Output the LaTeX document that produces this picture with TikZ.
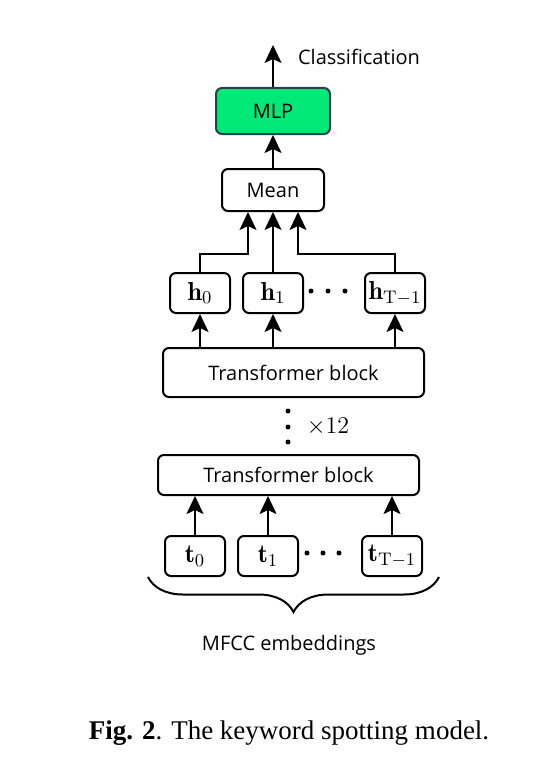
\documentclass[tikz,border=0pt]{standalone}
\usepackage{amsmath}
\usepackage{fontspec}
\usetikzlibrary{positioning}
\usetikzlibrary{calc}
\usetikzlibrary{arrows.meta}
\usetikzlibrary{decorations.pathreplacing}
\newfontfamily\labelfont{Open Sans}
\newfontfamily\captionfont{Liberation Serif}
\definecolor{mlpgreen}{RGB}{0,232,118}
\definecolor{mlpedge}{RGB}{45,62,80}

\begin{document}
\begin{tikzpicture}[x=0.5pt, y=-0.5pt,
    blk/.style={draw, rounded corners=3pt, line width=1pt, inner sep=0pt, font=\labelfont},
    tok/.style={draw, rounded corners=3pt, line width=1pt, minimum width=30pt, minimum height=20pt, inner sep=1.5pt, font=\fontsize{13}{15}\selectfont},
    arr/.style={-{Stealth[length=9pt, width=8.5pt, inset=2pt]}, line width=1pt}]
            \useasboundingbox (0,0) rectangle (550,765);

            \node[blk, fill=mlpgreen, draw=mlpedge, minimum width=57pt, minimum height=23pt] (mlp) at (273,111) {MLP};
            \node[blk, minimum width=51pt, minimum height=21pt] (mean) at (273,190) {Mean};
            \coordinate (out) at (273,45);
            \node[font=\labelfont, anchor=west] (cls) at (291,57) {Classification};

            \node[tok] (h1) at (273,293) {$\mathbf{h}_1$};
            \node[tok, left = 5.5pt of h1] (h0) {$\mathbf{h}_0$};
            \node[tok, right = 30pt of h1] (hT) {$\mathbf{h}_{\mathrm{T}-1}$};

            \node[blk, minimum width=130.5pt, minimum height=24.5pt] (tf2) at (293.5,372.5) {Transformer block};
            \node[font=\fontsize{12}{14}\selectfont] (rep) at (328,427) {$\times 12$};
            \node[blk, minimum width=130.5pt, minimum height=20pt] (tf1) at (288.5,475) {Transformer block};

            \node[tok] (t1) at (268,556) {$\mathbf{t}_1$};
            \node[tok, left = 5.5pt of t1] (t0) {$\mathbf{t}_0$};
            \node[tok, right = 31pt of t1] (tT) {$\mathbf{t}_{\mathrm{T}-1}$};

            \node[font=\labelfont] (mfcc) at (289,645) {MFCC embeddings};
            \node[font=\captionfont\fontsize{13.5}{16}\selectfont] (cap) at (289,733) {\textbf{Fig. 2}. The keyword spotting model.};

            % dots
            \foreach \x in {311,328,345} \fill (\x,291) circle (2.5);
            \foreach \x in {307,323,339} \fill (\x,553) circle (2.5);
            \foreach \y in {411,427,442} \fill (288,\y) circle (2.5);

            \draw[arr] (mlp.north) -- (out);
            \draw[arr] (mean.north) -- (mlp.south);
            \draw[arr] (h1.north) -- (mean.south);
            \draw[arr] (h0.north) -- ++(0,-18) -| ([xshift=-12.5pt]mean.south);
            \draw[arr] (hT.north) -- ++(0,-18) -| ([xshift=12.5pt]mean.south);

            \draw[arr] (h0 |- tf2.north) -- (h0.south);
            \draw[arr] (h1 |- tf2.north) -- (h1.south);
            \draw[arr] (hT |- tf2.north) -- (hT.south);

            \draw[arr] (t0.north) -- (t0 |- tf1.south);
            \draw[arr] (t1.north) -- (t1 |- tf1.south);
            \draw[arr] (tT.north) -- (tT |- tf1.south);

            \draw[line width=1pt, decorate, decoration={brace, mirror, amplitude=17.5pt}] ([xshift=-8pt]t0.south west) -- ([xshift=8pt]tT.south east);
        \end{tikzpicture}
\end{document}
